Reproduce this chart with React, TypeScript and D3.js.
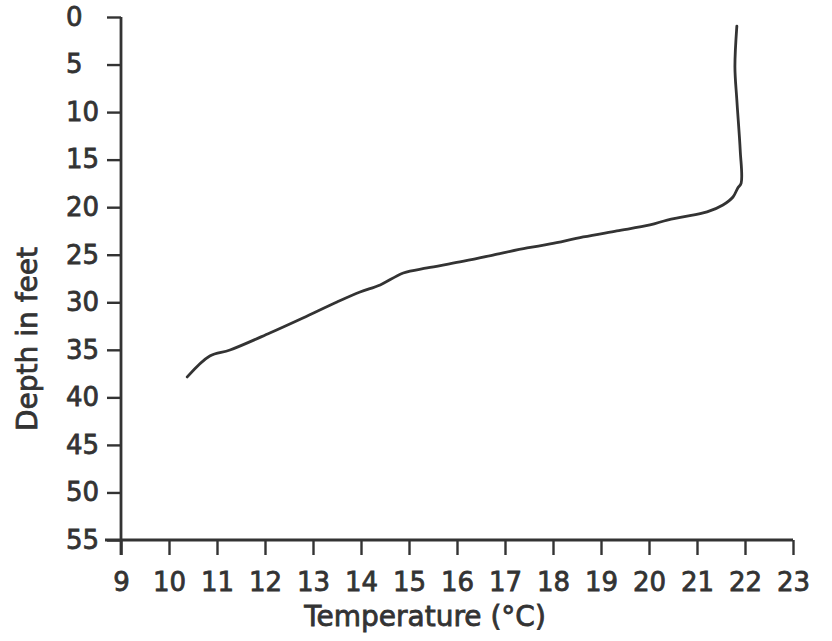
import React, { useEffect, useRef } from 'react';
import * as d3 from 'd3';

// temperature profile (°C, feet)
const temperature = [21.83, 21.79, 21.83, 21.9, 21.92, 21.85, 21.75, 21.54, 21.21, 20.71, 20.38, 20.02, 19.33, 18.63, 17.94, 17.46, 16.75, 16.06, 15.38, 14.88, 14.4, 13.98, 13.5, 12.79, 12.1, 11.27, 10.85, 10.38];
const depth = [0.95, 5.26, 8.73, 13.99, 17.46, 17.98, 18.93, 19.77, 20.5, 21.03, 21.35, 21.87, 22.5, 23.13, 23.87, 24.29, 25.03, 25.76, 26.39, 26.92, 28.18, 28.92, 29.97, 31.65, 33.23, 35.02, 35.65, 37.85];

const xTicks = [9, 10, 11, 12, 13, 14, 15, 16, 17, 18, 19, 20, 21, 22, 23];
const yTicks = [0, 5, 10, 15, 20, 25, 30, 35, 40, 45, 50, 55];

const ink = '#333';
const font = '"DejaVu Sans", sans-serif';

export default function App() {
  const ref = useRef<SVGSVGElement>(null);

  useEffect(() => {
    const svg = d3.select(ref.current);
    svg.selectAll('*').remove();

    const x = d3.scaleLinear().domain([9, 23]).range([121, 793]);
    const y = d3.scaleLinear().domain([0, 55]).range([17, 540]);

    // y axis: ticks + labels (labels sit left-aligned in a column), line drawn below
    const gy = svg.append('g')
      .attr('transform', `translate(${x(9)},0)`)
      .call(d3.axisLeft(y).tickValues(yTicks).tickSize(14).tickPadding(7).tickFormat(d3.format('d')));
    gy.select('.domain').remove();
    gy.selectAll('.tick text').attr('x', -55).attr('text-anchor', 'start');

    const gx = svg.append('g')
      .attr('transform', `translate(0,${y(55)})`)
      .call(d3.axisBottom(x).tickValues(xTicks).tickSize(15).tickPadding(18).tickFormat(d3.format('d')));
    gx.select('.domain').remove();

    svg.selectAll('.tick line').attr('stroke', ink).attr('stroke-width', 2.4);
    svg.selectAll('.tick text')
      .attr('fill', ink)
      .attr('stroke', ink)
      .attr('stroke-width', 0.8)
      .style('font-family', font)
      .style('font-size', '26px');

    // axis lines (y runs a bit past the x axis, x a bit past the y axis)
    svg.append('line')
      .attr('x1', x(9)).attr('x2', x(9))
      .attr('y1', y(0)).attr('y2', y(55) + 15)
      .attr('stroke', ink).attr('stroke-width', 2.8);
    svg.append('line')
      .attr('x1', x(9) - 16).attr('x2', x(23))
      .attr('y1', y(55)).attr('y2', y(55))
      .attr('stroke', ink).attr('stroke-width', 2.8);

    const pts: [number, number][] = temperature.map((t, i) => [t, depth[i]]);
    const line = d3.line<[number, number]>()
      .x(d => x(d[0]))
      .y(d => y(d[1]))
      .curve(d3.curveCatmullRom.alpha(0.5));

    svg.append('path')
      .datum(pts)
      .attr('d', line)
      .attr('fill', 'none')
      .attr('stroke', ink)
      .attr('stroke-width', 2.8)
      .attr('stroke-linecap', 'round');

    // titles
    svg.append('text')
      .attr('x', 425).attr('y', 626)
      .attr('text-anchor', 'middle')
      .attr('fill', ink)
      .attr('stroke', ink)
      .attr('stroke-width', 0.8)
      .style('font-family', font)
      .style('font-size', '28px')
      .text('Temperature (°C)');

    svg.append('text')
      .attr('transform', `translate(37,339) rotate(-90)`)
      .attr('text-anchor', 'middle')
      .attr('fill', ink)
      .attr('stroke', ink)
      .attr('stroke-width', 0.8)
      .style('font-family', font)
      .style('font-size', '28px')
      .text('Depth in feet');
  }, []);

  return (
    <svg ref={ref} width={832} height={641}
      style={{ position: 'absolute', left: 0, top: 0, background: '#fff' }} />
  );
}
